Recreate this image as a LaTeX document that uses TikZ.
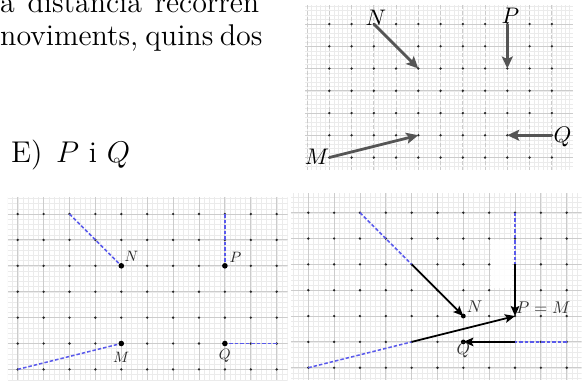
\documentclass[tikz,border=0pt]{standalone}
\usepackage{graphicx}
\usetikzlibrary{arrows.meta}
\definecolor{gridmin}{gray}{0.92}
\definecolor{gridmaj}{gray}{0.80}
\definecolor{dashblue}{RGB}{90,90,235}
\definecolor{arrgray}{RGB}{85,85,85}
\newcommand\mathlbl[2]{\scalebox{#1}{$#2$}}
\newcommand\bodyline[1]{\scalebox{2.5}{\fontsize{12}{14}\selectfont #1}}
\tikzset{
  minorline/.style={draw=gridmin, line width=0.4pt},
  majorline/.style={draw=gridmaj, line width=0.9pt},
  vdashed/.style={dash pattern=on 4pt off 2pt},
  smalldot/.style={circle, fill=black!85, inner sep=0pt, minimum size=2.6pt},
  middot/.style={circle, fill=black, inner sep=0pt, minimum size=4.8pt},
  bigdot/.style={circle, fill=black, inner sep=0pt, minimum size=5.6pt},
  toparrow/.style={draw=arrgray, line width=2.8pt, -{Stealth[length=12pt,width=11pt,inset=2.5pt]}},
  blackarrow/.style={draw=black, line width=1.8pt, -{Stealth[length=10pt,width=8.5pt,inset=2pt]}},
  bluedash/.style={draw=dashblue, line width=1.5pt, dash pattern=on 3.5pt off 2pt},
  toplabel/.style={inner sep=0pt},
  leftlabel/.style={inner sep=0pt, text=black!85},
  rightlabel/.style={inner sep=0pt, text=black!80},
  bodytext/.style={inner sep=0pt, anchor=base west}
}
\newcommand\panelgrid[5]{%
  \begin{scope}
    \clip (#1,#3) rectangle (#2,#4);
    \foreach \k in {-10,...,60} {\draw[minorline] (\k/5,#3) -- (\k/5,#4);}
    \foreach \k in {-10,...,40} {\draw[minorline] (#1,\k/5) -- (#2,\k/5);}
    \foreach \k in {-2,...,12} {\draw[majorline,#5] (\k,#3) -- (\k,#4);}
    \foreach \k in {-2,...,8} {\draw[majorline] (#1,\k) -- (#2,\k);}
  \end{scope}}
\begin{document}
\begin{tikzpicture}[x=1pt,y=-1pt]
\useasboundingbox (0,0) rectangle (587,381);

% text
\node[bodytext] (line1) at (0,12) {\bodyline{\makebox[103.6pt][s]{a distància recorren}}};
\node[bodytext] (line2) at (0,45) {\bodyline{\makebox[104pt][s]{noviments, quins dos}}};
\node[bodytext] (optE) at (11,162) {\bodyline{E)\hspace{0.45em}$P$ i $Q$}};

% top-right grid
\begin{scope}[shift={(329.3,24)}, x=22.25pt, y=-22.25pt]
  \panelgrid{-1.09}{10.95}{-0.85}{6.55}{vdashed}
  \foreach \c in {0,...,10} {\foreach \r in {0,...,6} {\node[smalldot] (a\c-\r) at (\c,\r) {};}}
  \draw[toparrow] (a2-0.center) -- (a4-2.center);
  \draw[toparrow] (a8-0.center) -- (a8-2.center);
  \draw[toparrow] (a10-5.center) -- (a8-5.center);
  \draw[toparrow] (a0-6.center) -- (a4-5.center);
  \node[toplabel, anchor=base] (tN) at ([xshift=2pt,yshift=-1pt]a2-0.center) {\mathlbl{2.25}{N}};
  \node[toplabel, anchor=base] (tP) at ([xshift=3pt,yshift=1pt]a8-0.center) {\mathlbl{2.25}{P}};
  \node[toplabel, anchor=base west] (tQ) at ([xshift=1.5pt,yshift=-7.5pt]a10-5.center) {\mathlbl{2.25}{Q}};
  \node[toplabel, anchor=base east] (tM) at ([yshift=-7.3pt]a0-6.center) {\mathlbl{2.25}{M}};
\end{scope}

% bottom-left grid
\begin{scope}[shift={(17.7,214)}, x=25.9pt, y=-25.9pt]
  \panelgrid{-0.375}{10.42}{-0.66}{6.41}{}
  \foreach \c in {0,...,10} {\foreach \r in {0,...,6} {\node[smalldot] (b\c-\r) at (\c,\r) {};}}
  \draw[bluedash] (b2-0.center) -- (b4-2.center);
  \draw[bluedash] (b8-0.center) -- (b8-2.center);
  \draw[bluedash] (b0-6.center) -- (b4-5.center);
  \draw[bluedash] (b10-5.center) -- (b8-5.center);
  \node[bigdot] (bN) at (b4-2) {};
  \node[bigdot] (bP) at (b8-2) {};
  \node[bigdot] (bM) at (b4-5) {};
  \node[bigdot] (bQ) at (b8-5) {};
  \node[leftlabel, anchor=base west] (lN) at ([xshift=3pt,yshift=4pt]bN.center) {\mathlbl{1.5}{N}};
  \node[leftlabel, anchor=base west] (lP) at ([xshift=4.5pt,yshift=3pt]bP.center) {\mathlbl{1.5}{P}};
  \node[leftlabel, anchor=base] (lM) at ([yshift=-19pt]bM.center) {\mathlbl{1.5}{M}};
  \node[leftlabel, anchor=base] (lQ) at ([yshift=-16pt]bQ.center) {\mathlbl{1.5}{Q}};
\end{scope}

% bottom-right grid
\begin{scope}[shift={(308.3,212.7)}, x=25.84pt, y=-25.84pt]
  \panelgrid{-0.67}{10.58}{-0.76}{6.47}{}
  \fill[white, opacity=0.85] (7.08,1.06) rectangle (7.9,2.91);
  \foreach \c in {0,...,10} {\foreach \r in {0,...,6} {\node[smalldot] (c\c-\r) at (\c,\r) {};}}
  \draw[bluedash] (c2-0.center) -- (c4-2.center);
  \draw[bluedash] (c8-0.center) -- (c8-2.center);
  \draw[bluedash] (c0-6.center) -- (c4-5.center);
  \draw[bluedash] (c10-5.center) -- (c8-5.center);
  \node[middot] (rN) at (c6-4) {};
  \node[middot] (rQ) at (c6-5) {};
  \draw[blackarrow] (c4-2.center) -- (rN.center);
  \draw[blackarrow] (c8-2.center) -- (c8-4.center);
  \draw[blackarrow] (c4-5.center) -- (c8-4.center);
  \draw[blackarrow] (c8-5.center) -- (rQ.center);
  \node[rightlabel, anchor=base west] (rlN) at ([xshift=3.4pt,yshift=4pt]rN.center) {\mathlbl{1.7}{N}};
  \node[rightlabel, anchor=base west] (rlPM) at ([xshift=1pt,yshift=3pt]c8-4.center) {\mathlbl{1.7}{P=M}};
  \node[rightlabel, anchor=base] (rlQ) at ([yshift=-13pt]rQ.center) {\mathlbl{1.7}{Q}};
\end{scope}
\end{tikzpicture}
\end{document}
